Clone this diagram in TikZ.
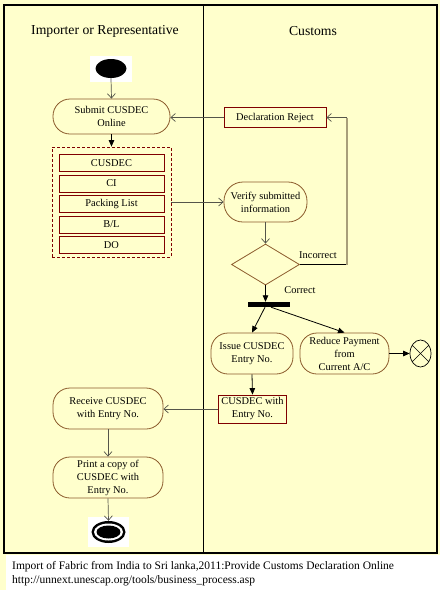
\documentclass[tikz,border=0pt]{standalone}
\usepackage{fontspec}
\setmainfont{Liberation Serif}
\usetikzlibrary{arrows.meta,shapes.geometric}
\definecolor{bg}{HTML}{FFFFCC}
\definecolor{actc}{HTML}{8B5A2B}
\definecolor{objc}{HTML}{800000}
\definecolor{flowgray}{HTML}{55554A}
\definecolor{tanline}{HTML}{A89F7A}
\newcommand\ndfont{\fontsize{10.4}{13}\selectfont}
\newcommand\hdfont{\fontsize{13.7}{16}\selectfont}
\newcommand\cpfont{\fontsize{11.5}{13}\selectfont}
\begin{document}
\begin{tikzpicture}[x=1pt,y=-1pt,
  act/.style={draw=actc, fill=bg, rounded corners=17pt, align=center, font=\ndfont, inner sep=0pt, line width=0.8pt},
  obj/.style={draw=objc, fill=bg, align=center, font=\ndfont, inner sep=0pt, line width=0.8pt},
  hdr/.style={font=\hdfont, inner sep=0pt},
  lbl/.style={font=\ndfont, inner sep=0pt},
  openarr/.style={draw=flowgray, line width=0.7pt, -{Straight Barb[length=4.5pt,width=8pt]}},
  fillarr/.style={draw=black, line width=0.8pt, -{Triangle[length=6.5pt,width=5.5pt]}}
]
\useasboundingbox (0,0) rectangle (440,590);
% background
\fill[bg] (0,0) rectangle (440,555);
\fill[white] (6,555) rectangle (440,590);
\fill[bg] (0,555) rectangle (6,590);
% frame
\draw[line width=1.2pt] (4,5) rectangle (437,553);
\draw[line width=1pt] (203,5) -- (203,553);
% headers
\node[hdr] (h1) at (105,31) {Importer or Representative};
\node[hdr] (h2) at (313,31) {Customs};
% start
\fill[white] (90,56) rectangle (132,82);
\node[ellipse, fill=black, minimum width=31pt, minimum height=19pt, inner sep=0pt] (start) at (111,68.5) {};
% left lane
\node[act, minimum width=117pt, minimum height=35pt] (submit) at (111.5,116.5) {Submit CUSDEC\\Online};
\node[draw=objc, dashed, dash pattern=on 3pt off 2pt, line width=0.8pt, minimum width=119pt, minimum height=110pt, inner sep=0pt] (docs) at (111.5,202) {};
\node[obj, minimum width=105pt, minimum height=17pt] (cusdec) at (111.5,163) {CUSDEC};
\node[obj, minimum width=105pt, minimum height=17pt] (ci) at (111.5,183.5) {CI};
\node[obj, minimum width=105pt, minimum height=17pt] (pl) at (111.5,204) {Packing List};
\node[obj, minimum width=105pt, minimum height=17pt] (bl) at (111.5,224.5) {B/L};
\node[obj, minimum width=105pt, minimum height=17pt] (do) at (111.5,245) {DO};
\node[act, minimum width=110pt, minimum height=41pt] (receive) at (108,408.5) {Receive CUSDEC\\with Entry No.};
\node[act, minimum width=110pt, minimum height=41pt] (print) at (108,477.5) {Print a copy of\\CUSDEC with\\Entry No.};
% end
\fill[white] (88,517) rectangle (129,547);
\node[ellipse, fill=black, minimum width=34pt, minimum height=22pt, inner sep=0pt] (end) at (108.5,532) {};
\node[ellipse, fill=white, minimum width=29pt, minimum height=17pt, inner sep=0pt] (endw) at (108.5,532) {};
\node[ellipse, fill=black, minimum width=24pt, minimum height=13pt, inner sep=0pt] (endc) at (108.5,532) {};
% right lane
\node[obj, minimum width=102pt, minimum height=20pt] (reject) at (275,117.5) {Declaration Reject};
\node[act, rounded corners=19pt, minimum width=83pt, minimum height=40pt] (verify) at (265.5,202) {Verify submitted\\information};
\node[diamond, draw=actc, fill=bg, line width=0.8pt, minimum width=68pt, minimum height=41pt, inner sep=0pt] (dia) at (265.5,264.5) {};
\node[lbl] (inc) at (318,255) {Incorrect};
\node[lbl] (cor) at (300,290) {Correct};
\node[fill=black, minimum width=42pt, minimum height=5pt, inner sep=0pt] (bar) at (269,304.5) {};
\node[act, minimum width=82pt, minimum height=41pt] (issue) at (252,353.5) {Issue CUSDEC\\Entry No.};
\node[act, minimum width=89pt, minimum height=41pt] (reduce) at (344.5,353.5) {Reduce Payment\\from\\Current A/C};
\node[ellipse, draw=black, fill=bg, line width=0.7pt, minimum width=21pt, minimum height=27pt, inner sep=0pt] (xe) at (420.5,353.5) {};
\draw[line width=0.6pt] (xe.45) -- (xe.225);
\draw[line width=0.6pt] (xe.135) -- (xe.315);
\node[obj, minimum width=68pt, minimum height=28pt] (entry) at (252.5,409) {CUSDEC with\\Entry No.};
% connectors
\draw[openarr] (start.south) -- (submit.north);
\draw[fillarr] (submit.south) -- (docs.north);
\draw[openarr] (docs.east) -- (verify.west);
\draw[openarr] (reject.west) -- (reject.west -| submit.east);
\draw[openarr] (verify.south) -- (dia.north);
\coordinate (c1) at (347,264.5);
\coordinate (c2) at (347,117.5);
\draw[black, line width=0.8pt] (dia.east) -- (c1);
\draw[tanline, line width=1.2pt] (c1) -- (c2);
\draw[openarr] (c2) -- (reject.east);
\draw[fillarr] (dia.south) -- (dia.south |- bar.north);
\draw[fillarr] ([xshift=-4pt]bar.south) -- (issue.north);
\draw[fillarr] ([xshift=2pt]bar.south) -- (reduce.north);
\draw[fillarr] (reduce.east) -- (xe.west);
\draw[fillarr] (issue.south) -- (entry.north);
\draw[openarr] (entry.west) -- (entry.west -| receive.east);
\draw[openarr] (receive.south) -- (print.north);
\draw[openarr] (print.south) -- (end.north);
% caption
\node[font=\cpfont, anchor=base west, inner sep=0pt] (cap1) at (12,569.5) {Import of Fabric from India to Sri lanka,2011:Provide Customs Declaration Online};
\node[font=\cpfont, anchor=base west, inner sep=0pt] (cap2) at (12,583.5) {http://unnext.unescap.org/tools/business\_process.asp};
\end{tikzpicture}
\end{document}
